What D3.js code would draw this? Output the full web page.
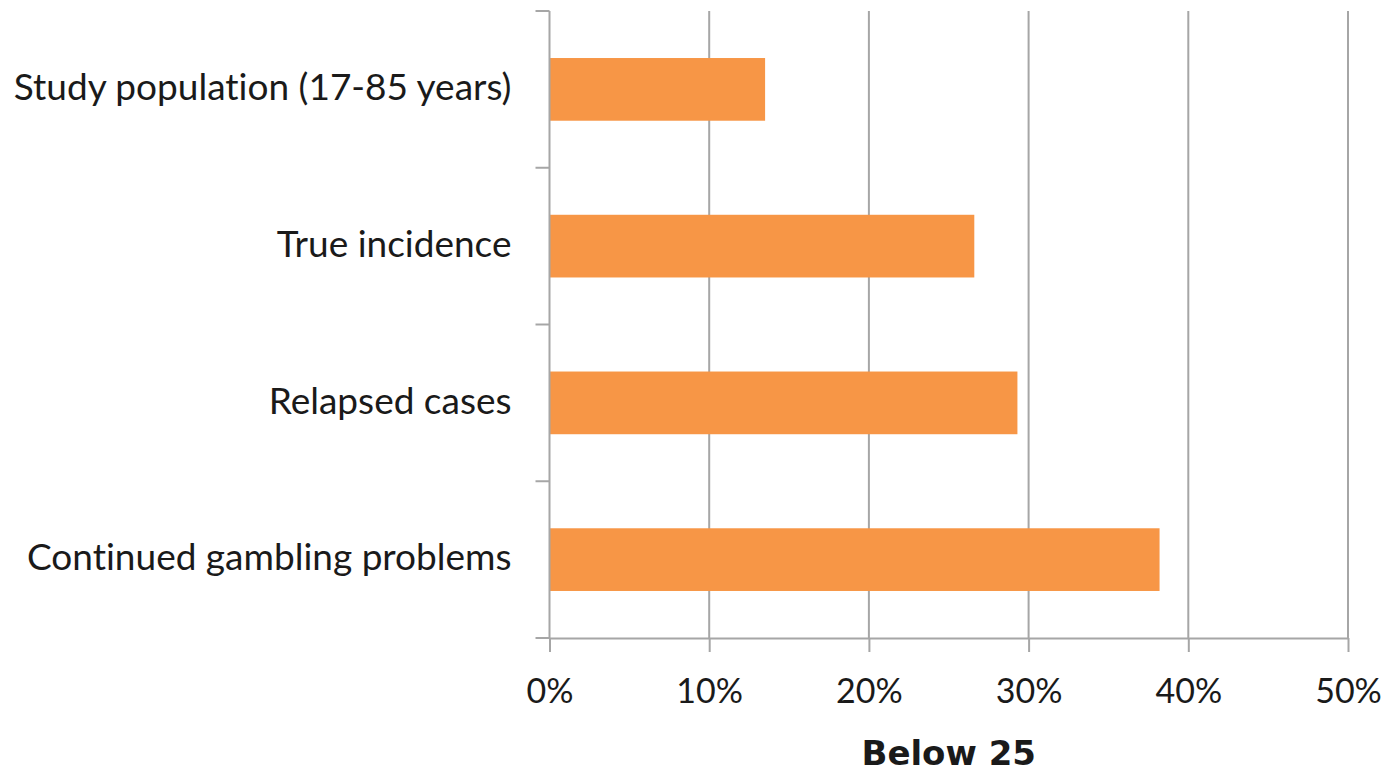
<!DOCTYPE html>
<html>
<head>
<meta charset="utf-8">
<script src="https://cdn.jsdelivr.net/npm/d3@7"></script>
<style>
  html, body { margin: 0; padding: 0; background: #fff; }
  svg { display: block; }
  text { font-family: Lato, "Open Sans", sans-serif; fill: #1a1a1a; font-variant-ligatures: none; }
</style>
</head>
<body>
<svg id="chart" width="1393" height="775"></svg>
<script>
// Share of each group aged below 25
const categories = [
  "Study population (17-85 years)",
  "True incidence",
  "Relapsed cases",
  "Continued gambling problems"
];
const values = [13.5, 26.6, 29.3, 38.2];
const xTicks = [0, 10, 20, 30, 40, 50];
const axisTitle = "Below 25";

const svg = d3.select("#chart");
const margin = { left: 549.5, right: 45, top: 11, bottom: 137 };
const W = 1393, H = 775;

const x = d3.scaleLinear().domain([0, 50]).range([margin.left, W - margin.right]);
const y = d3.scaleBand().domain(categories).range([margin.top, H - margin.bottom])
  .paddingInner(0.6).paddingOuter(0.3);

const gridColor = "#a6a6a6";

// vertical gridlines
svg.append("g").selectAll("line").data(xTicks.slice(1)).join("line")
  .attr("x1", d => x(d)).attr("x2", d => x(d))
  .attr("y1", margin.top).attr("y2", H - margin.bottom)
  .attr("stroke", gridColor).attr("stroke-width", 2);

// bars
svg.append("g").selectAll("rect").data(values).join("rect")
  .attr("x", x(0))
  .attr("y", (d, i) => y(categories[i]))
  .attr("width", d => x(d) - x(0))
  .attr("height", y.bandwidth())
  .attr("fill", "#f79646");

// category axis with tick marks between bands
const yAxisG = svg.append("g");
const bandEdges = categories.map(c => y(c) - y.step() * y.paddingInner() / 2);
bandEdges.push(H - margin.bottom);
yAxisG.append("line")
  .attr("x1", x(0)).attr("x2", x(0))
  .attr("y1", margin.top).attr("y2", H - margin.bottom)
  .attr("stroke", gridColor).attr("stroke-width", 2);
yAxisG.selectAll("line.tick").data(bandEdges).join("line")
  .attr("class", "tick")
  .attr("x1", x(0) - 14).attr("x2", x(0))
  .attr("y1", d => d).attr("y2", d => d)
  .attr("stroke", gridColor).attr("stroke-width", 2);
yAxisG.selectAll("text").data(categories).join("text")
  .attr("x", x(0) - 38)
  .attr("y", d => y(d) + y.bandwidth() / 2)
  .attr("dy", "0.29em")
  .attr("text-anchor", "end")
  .style("font-size", "37px")
  .text(d => d);

// value axis
const xAxis = d3.axisBottom(x).tickValues(xTicks).tickFormat(d => d + "%")
  .tickSize(14).tickSizeOuter(0);
const xAxisG = svg.append("g")
  .attr("transform", `translate(0,${H - margin.bottom})`)
  .call(xAxis);
xAxisG.select(".domain").attr("stroke", gridColor).attr("stroke-width", 2);
xAxisG.selectAll(".tick line").attr("stroke", gridColor).attr("stroke-width", 2);
xAxisG.selectAll(".tick text")
  .attr("y", 65).attr("dy", 0)
  .style("font-size", "34px")
  .style("font-family", "Lato, 'Open Sans', sans-serif")
  .attr("fill", "#1a1a1a");

svg.append("text")
  .attr("x", (x(0) + x(50)) / 2)
  .attr("y", 765)
  .attr("text-anchor", "middle")
  .style("font-family", "'DejaVu Sans', 'Open Sans', sans-serif")
  .style("font-size", "34px")
  .style("font-weight", "bold")
  .text(axisTitle);
</script>
</body>
</html>
